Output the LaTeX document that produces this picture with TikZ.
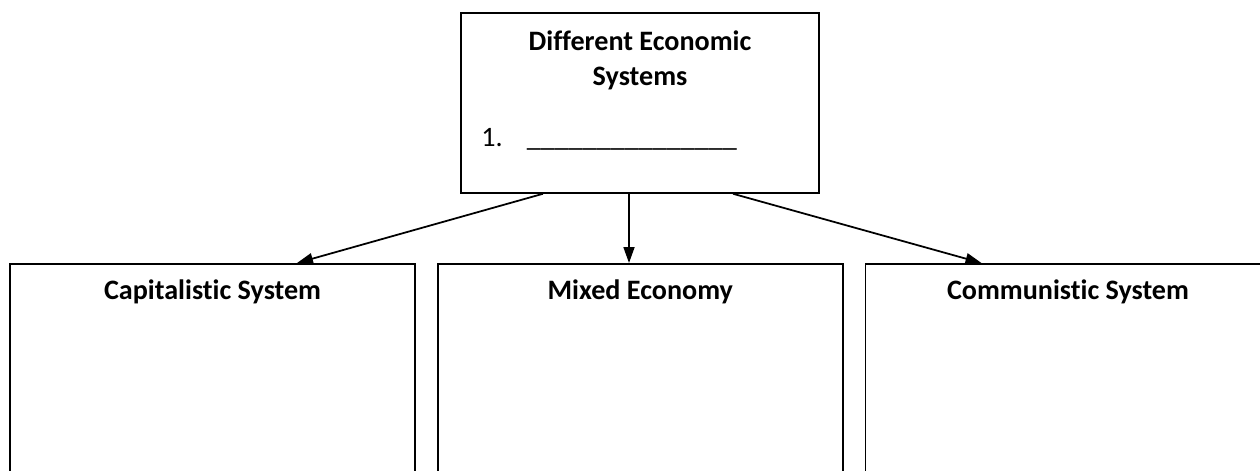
\documentclass[tikz,border=0pt]{standalone}
\usepackage{fontspec}
\setmainfont{Carlito}[Ligatures=NoCommon]
\usetikzlibrary{positioning,arrows.meta}

\tikzset{
  box/.style={draw, line width=1pt, minimum width=8.1cm, minimum height=4.6cm, anchor=north},
  head/.style={font=\fontsize{16}{20}\selectfont\bfseries, align=center, inner sep=0pt},
  link/.style={line width=1pt, -{Triangle[length=0.32cm,width=0.22cm]}}
}

\begin{document}
\begin{tikzpicture}
    \clip (0,0) rectangle (25.2,-9.4);

    % Top box
    \node[draw, line width=1pt, minimum width=7.16cm, minimum height=3.6cm, anchor=north] (sys) at (12.8,-0.24) {};
    \node[head, anchor=north] (systitle) at ([yshift=-0.37cm]sys.north) {Different Economic\\Systems};
    \node[font=\fontsize{16}{20}\selectfont, anchor=base west, inner sep=0pt] (blank)
        at ([xshift=0.42cm, yshift=-2.68cm]sys.north west) {1.\hspace{0.48cm}\_\_\_\_\_\_\_\_\_\_\_\_\_\_\_};

    % Bottom boxes
    \node[box] (cap) at (4.25,-5.26) {};
    \node[box, right=0.42cm of cap] (mixed) {};
    \node[box, right=0.42cm of mixed] (comm) {};

    \foreach \b/\t in {cap/Capitalistic System, mixed/Mixed Economy, comm/Communistic System}
        \node[head, anchor=base] (\b title) at ([yshift=-0.72cm]\b.north) {\t};

    % Arrows
    \draw[link] ([xshift=-1.94cm]sys.south) -- ([xshift=1.69cm]cap.north);
    \draw[link] ([xshift=-0.22cm]sys.south) -- ([xshift=-0.22cm]sys.south |- mixed.north);
    \draw[link] ([xshift=1.86cm]sys.south) -- ([xshift=-1.73cm]comm.north);
\end{tikzpicture}
\end{document}
